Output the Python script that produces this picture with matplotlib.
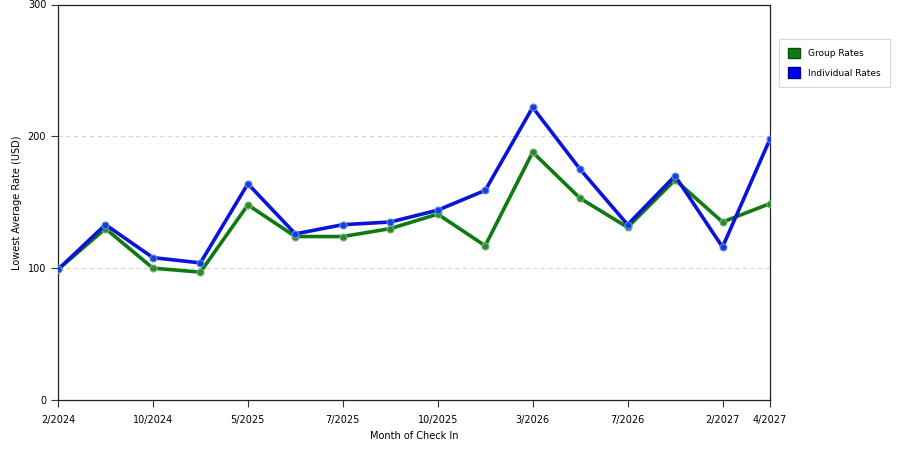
import numpy as np
import matplotlib.pyplot as plt
from matplotlib.patches import Patch

# --- Data ---
months = ["2/2024", "", "10/2024", "", "5/2025", "", "7/2025", "", "10/2025", "",
          "3/2026", "", "7/2026", "", "2/2027", "4/2027"]
group_rates = [99, 130, 100, 97, 148, 124, 124, 130, 141, 117, 188, 153, 131, 167, 135, 149]
indiv_rates = [99, 133, 108, 104, 164, 126, 133, 135, 144, 159, 222, 175, 133, 170, 116, 198]

green = "#0f7a0f"
blue = "#0a14d8"

fig = plt.figure(figsize=(9, 4.5), dpi=100)
ax = fig.add_axes([58/900, 50/450, 712/900, 395.5/450])

x = np.arange(len(months))
ax.plot(x, group_rates, color=green, lw=2.6, marker="o", ms=5,
        mfc="#2a8a2a", mec="#7ab07a", mew=0.8, zorder=3)
ax.plot(x, indiv_rates, color=blue, lw=2.6, marker="o", ms=5,
        mfc="#1040e0", mec="#6a8ae8", mew=0.8, zorder=4)

ax.set_xlim(0, 15)
ax.set_ylim(0, 300)
ax.set_yticks([0, 100, 200, 300])
tick_idx = [i for i, m in enumerate(months) if m]
ax.set_xticks(tick_idx)
ax.set_xticklabels([months[i] for i in tick_idx])
ax.tick_params(axis="both", labelsize=7, length=5, width=0.8, color="#333333")
ax.tick_params(axis="x", pad=6)

for y in [100, 200]:
    ax.axhline(y, color="#d6d6d6", lw=0.8, ls=(0, (4, 3)), zorder=1)

for s in ax.spines.values():
    s.set_color("#222222")
    s.set_linewidth(0.9)

ax.set_xlabel("Month of Check In", fontsize=7, labelpad=4)
ax.set_ylabel("Lowest Average Rate (USD)", fontsize=7, labelpad=4)

handles = [Patch(facecolor=green, edgecolor="#0a4a0a", label="Group Rates"),
           Patch(facecolor="#0000ee", edgecolor="#00008a", label="Individual Rates")]
leg = fig.legend(handles=handles, loc="upper left", bbox_to_anchor=(779/900, 1 - 39/450),
                 fontsize=6.5, frameon=True, fancybox=False, handlelength=1.3,
                 handleheight=1.4, borderpad=1.0, labelspacing=1.0, handletextpad=0.9,
                 borderaxespad=0)
leg.get_frame().set_edgecolor("#cccccc")
leg.get_frame().set_linewidth(0.8)

fig.savefig("out.png", dpi=100)
